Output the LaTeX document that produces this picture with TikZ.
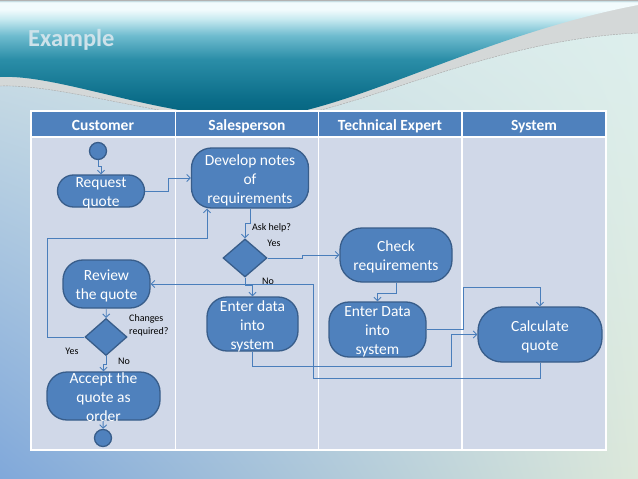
\documentclass[tikz,border=0pt]{standalone}
\usepackage{fontspec}
\setmainfont{Carlito}
\usetikzlibrary{shapes.geometric, arrows.meta, shadings}

\definecolor{boxblue}{HTML}{4F81BD}
\definecolor{boxline}{HTML}{385D8A}
\definecolor{linkblue}{HTML}{4A7EBB}
\definecolor{lanefill}{HTML}{D0D8E8}
\definecolor{titlecol}{HTML}{CDE2EA}
\definecolor{bandgray}{HTML}{D4D8D8}
\definecolor{bgUL}{HTML}{D4E4E6}
\definecolor{bgUR}{HTML}{DDEFEE}
\definecolor{bgLL}{HTML}{80A8DA}
\definecolor{bgLR}{HTML}{DCE8DA}
\definecolor{waveD}{HTML}{05637D}
\definecolor{waveC}{HTML}{0B6D89}
\definecolor{waveB}{HTML}{2B8EA8}
\definecolor{waveA}{HTML}{6FBCCF}
\definecolor{waveL}{HTML}{C8EAF0}
\definecolor{waveW}{HTML}{F2FBFD}
\definecolor{waveT}{HTML}{A9C9D2}

\pgfdeclareverticalshading{wave}{100bp}{color(0bp)=(waveD); color(25bp)=(waveD);
  color(33bp)=(waveC); color(50bp)=(waveB); color(60bp)=(waveA); color(67bp)=(waveL);
  color(71bp)=(waveW); color(74bp)=(waveW); color(75bp)=(waveT); color(100bp)=(waveT)}

% multi-line text that may run over the box
\newcommand{\ml}[1]{\smash{\raisebox{-6pt}{\begin{tabular}{@{}c@{}}#1\end{tabular}}}}

\begin{document}
\begin{tikzpicture}[x=1pt, y=-1pt, >={Straight Barb[length=3.5pt,width=7pt]},
		act/.style={draw=boxline, line width=1.3pt, fill=boxblue, rounded corners=16pt,
			inner sep=0pt, text=white, font=\fontsize{15.5}{19}\selectfont},
		dec/.style={diamond, draw=boxline, line width=1.3pt, fill=boxblue, inner sep=0pt,
			minimum width=44pt, minimum height=38pt},
		dot/.style={circle, draw=boxline, line width=1.3pt, fill=boxblue, inner sep=0pt,
			minimum size=17pt},
		lbl/.style={font=\fontsize{10}{13}\selectfont, inner sep=0pt},
		lane/.style={anchor=base, inner sep=0pt, font=\bfseries\fontsize{15.5}{18}\selectfont,
			text=white},
		flow/.style={draw=linkblue, line width=0.9pt, ->}]
		\useasboundingbox (0,0) rectangle (638,479);

		% slide background
		\shade[upper left=bgUL, upper right=bgUR, lower left=bgLL, lower right=bgLR]
			(0,0) rectangle (638,479);
		\fill[bandgray] (0,0) -- (0,86) .. controls (60,84) and (150,115) .. (250,122)
			.. controls (350,118) and (480,40) .. (638,33) -- (638,0) -- cycle;
		\draw[gray!70, line width=0.4pt, dash pattern=on 2pt off 1pt] (0,86)
			.. controls (60,84) and (150,115) .. (250,122)
			.. controls (350,118) and (480,40) .. (638,33);
		\shade[shading=wave] (0,0) -- (0,77) .. controls (60,74) and (160,118) .. (260,118)
			.. controls (350,112) and (480,35) .. (638,5) -- (638,0) -- cycle;
		\draw[gray!60, line width=1pt] (0,0.5) -- (638,0.5);
		\node (title) [anchor=base west, inner sep=0pt, text=titlecol,
			font=\bfseries\fontsize{24.5}{28}\selectfont] at (28,46) {Example};

		% lanes
		\fill[lanefill] (31,111) rectangle (606,450);
		\fill[boxblue] (31,111) rectangle (606,137);
		\draw[white, line width=1.5pt] (31,111) rectangle (606,450);
		\draw[white, line width=1.5pt] (31,137) -- (606,137);
		\foreach \x in {175.5, 318.5, 462} {
				\draw[white, line width=1.2pt] (\x,111) -- (\x,450);
			}
		\foreach \x/\t/\n in {103/Customer/cust, 247/Salesperson/sales,
				390/Technical Expert/tech, 534/System/sys} {
				\node (\n) [lane] at (\x,130) {\t};
			}

		% activities
		\node (start) [dot] at (98,151) {};
		\node (req) [act, minimum width=87pt, minimum height=32pt] at (101,191) {\ml{Request\\quote}};
		\node (dev) [act, minimum width=117pt, minimum height=60pt, rounded corners=20pt]
			at (250,178) {\ml{Develop notes\\of\\requirements}};
		\node (ask) [dec] at (245,258) {};
		\node (rev) [act, minimum width=87pt, minimum height=48pt, rounded corners=20pt]
			at (106.5,284) {\ml{Review\\the quote}};
		\node (chg) [dec, minimum width=42pt, minimum height=37pt] at (106,337) {};
		\node (acc) [act, minimum width=113pt, minimum height=48pt, rounded corners=20pt]
			at (103.5,396) {\ml{Accept the\\quote as\\order}};
		\node (stop) [dot] at (103,438) {};
		\node (ent1) [act, minimum width=91pt, minimum height=54pt, rounded corners=20pt]
			at (252.5,324) {\ml{Enter data\\into\\system}};
		\node (check) [act, minimum width=112pt, minimum height=54pt, rounded corners=22pt]
			at (396,255) {\ml{Check\\requirements}};
		\node (ent2) [act, minimum width=97pt, minimum height=55pt, rounded corners=20pt]
			at (377.5,329.5) {\ml{Enter Data\\into\\system}};
		\node (calc) [act, minimum width=124pt, minimum height=55pt, rounded corners=24pt]
			at (540,334.5) {\ml{Calculate\\quote}};

		\node (askl) [lbl, anchor=west] at (252,228) {Ask help?};
		\node (yes1) [lbl] at (274,243) {Yes};
		\node (no1) [lbl] at (268,281) {No};
		\node (chgl) [lbl, anchor=west, align=left] at (129,325) {Changes\\required?};
		\node (yes2) [lbl] at (72,351) {Yes};
		\node (no2) [lbl] at (124,361) {No};

		\coordinate (back) at (313,378);
		\coordinate (redo) at (47,238);
		\coordinate (hop1) at (451,366);
		\coordinate (hop2) at (463,287);

		\draw[flow] (start.south) -- ++(0,6) -| (req.north);
		\draw[flow] (req.east) -- ++(23,0) |- (dev.west);
		\draw[flow] (dev.south) -- ++(0,15) -| (ask.north);
		\draw[flow] (ask.east) -- ++(35,0) |- (check.west);
		\draw[flow] (ask.south) -- ++(0,8) -| (ent1.north);
		\draw[flow] (calc.south) |- (back) |- (rev.east);
		\draw[flow] (rev) -- (chg);
		\draw[flow] (chg.west) -| (redo) -| ([xshift=-43pt]dev.south);
		\draw[flow] (chg.south) -- ++(0,8) -| (acc.north);
		\draw[flow] (acc) -- (stop);
		\draw[flow] (ent1.south) |- (hop1) |- (calc.west);
		\draw[flow] (check.south) -- ++(0,11) -| (ent2.north);
		\draw[flow] (ent2.east) -| (hop2) -| (calc.north);
	\end{tikzpicture}
\end{document}
